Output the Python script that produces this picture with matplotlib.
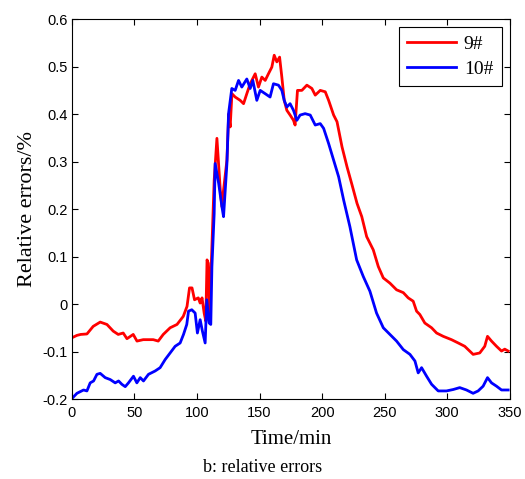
import numpy as np
import matplotlib.pyplot as plt

# series 9# (red)
x9 = [0, 4, 7, 12, 17, 22.6, 28, 33, 37, 41, 44, 49, 52, 57, 65, 69, 73, 78.5, 84, 89, 92, 94, 96, 98,
      101, 102.5, 104, 105.7, 107, 108, 109, 110, 111.9, 113.7, 115.9, 118.6, 119.9, 121.2, 123.9, 125.3,
      126.5, 127.9, 130.5, 134.5, 137.2, 139.8, 142.5, 146.5, 149.1, 151.8, 154.5, 157.1, 159.8, 161.7,
      163.8, 166, 167.8, 169.7, 171.8, 174.4, 177.1, 178.4, 180.3, 183.8, 187.8, 191.8, 194.5, 198.5,
      202.5, 205.2, 209.2, 211.9, 215.9, 219.9, 223.9, 227.9, 231.7, 235.6, 240.9, 244.9, 248.9, 254.2,
      259.5, 264.9, 268.8, 272.8, 275.5, 278.1, 282.1, 287.5, 291.5, 296.8, 303.4, 308.8, 314, 320.7,
      326, 330, 332.2, 335.4, 339.4, 343.4, 346, 348.7]
y9 = [-0.071, -0.066, -0.064, -0.063, -0.047, -0.038, -0.043, -0.057, -0.064, -0.061, -0.073, -0.064,
      -0.078, -0.075, -0.075, -0.078, -0.064, -0.050, -0.043, -0.026, -0.005, 0.034, 0.034, 0.009,
      0.013, 0.002, 0.013, -0.019, -0.036, 0.093, 0.086, -0.019, 0.121, 0.260, 0.349, 0.240, 0.205,
      0.240, 0.303, 0.400, 0.373, 0.443, 0.436, 0.429, 0.422, 0.443, 0.464, 0.485, 0.457, 0.478, 0.471,
      0.485, 0.499, 0.524, 0.510, 0.520, 0.478, 0.429, 0.408, 0.398, 0.387, 0.377, 0.450, 0.450, 0.461,
      0.454, 0.440, 0.450, 0.447, 0.429, 0.398, 0.384, 0.331, 0.289, 0.251, 0.212, 0.184, 0.142, 0.114,
      0.079, 0.055, 0.044, 0.030, 0.024, 0.013, 0.006, -0.015, -0.022, -0.040, -0.050, -0.061, -0.068,
      -0.075, -0.082, -0.089, -0.106, -0.103, -0.089, -0.068, -0.078, -0.089, -0.099, -0.095, -0.099]

# series 10# (blue)
x10 = [0, 4, 9.3, 12, 14.6, 17.3, 20, 22.6, 26.6, 30.6, 34.6, 37.3, 39.9, 42.6, 45.2, 49.2, 51.9, 54.6,
       57.2, 61.2, 66.5, 70.5, 74.5, 78.5, 82.5, 86.5, 89.2, 91.8, 93.2, 95.8, 98.5, 100.3, 102.5, 104.3,
       106.5, 107.8, 109.7, 111, 111.9, 113.7, 114.5, 117.3, 119.9, 121.2, 123.9, 125.2, 127.8, 130.5,
       133.2, 135.8, 139.8, 142.5, 144.6, 147.8, 150.5, 154.5, 158.4, 161.1, 165.1, 167.8, 169.7, 171.8,
       174.4, 177.1, 179.8, 182.4, 186.4, 190.5, 194.5, 198.5, 201.2, 205.2, 209.2, 213.2, 217.2, 222.2,
       227.6, 232.9, 238.2, 243.5, 248.9, 254.2, 259.5, 264.9, 270.2, 274.2, 276.8, 279.5, 283.5, 287.5,
       292.8, 299.4, 304.8, 310, 315.4, 320.7, 324.7, 328.7, 332.2, 335.4, 339.4, 343.4, 348.7]
y10 = [-0.199, -0.188, -0.181, -0.183, -0.166, -0.162, -0.148, -0.146, -0.155, -0.159, -0.166, -0.162,
       -0.169, -0.174, -0.166, -0.152, -0.166, -0.155, -0.162, -0.148, -0.141, -0.134, -0.117, -0.103,
       -0.089, -0.082, -0.064, -0.043, -0.015, -0.012, -0.019, -0.061, -0.033, -0.057, -0.082, 0.009,
       -0.040, -0.043, 0.079, 0.190, 0.296, 0.254, 0.205, 0.184, 0.296, 0.401, 0.454, 0.450, 0.471,
       0.457, 0.474, 0.454, 0.471, 0.429, 0.450, 0.443, 0.436, 0.464, 0.461, 0.450, 0.429, 0.415, 0.422,
       0.408, 0.387, 0.398, 0.401, 0.398, 0.377, 0.380, 0.370, 0.338, 0.303, 0.268, 0.219, 0.163, 0.093,
       0.058, 0.027, -0.019, -0.050, -0.064, -0.078, -0.096, -0.106, -0.120, -0.145, -0.134, -0.152,
       -0.169, -0.183, -0.183, -0.180, -0.176, -0.181, -0.188, -0.183, -0.173, -0.155, -0.166, -0.173,
       -0.181, -0.181]

yticks = [-0.2, -0.1, 0, 0.1, 0.2, 0.3, 0.4, 0.5, 0.6]
ytick_labels = ['-0.2', '-0.1', '0', '0.1', '0.2', '0.3', '0.4', '0.5', '0.6']
xticks = [0, 50, 100, 150, 200, 250, 300, 350]

fig = plt.figure(figsize=(5.25, 4.79), dpi=100)
ax = fig.add_axes([0.137, 0.167, 0.834, 0.793])

ax.plot(x9, y9, color='#ff0000', lw=2, label='9#')
ax.plot(x10, y10, color='#0000ff', lw=2, label='10#')

ax.set_xlim(0, 350)
ax.set_ylim(-0.2, 0.6)
ax.set_xticks(xticks)
ax.set_xticklabels([str(t) for t in xticks], family='Liberation Sans', fontsize=10.5)
ax.set_yticks(yticks)
ax.set_yticklabels(ytick_labels, family='Liberation Sans', fontsize=10.5)
ax.tick_params(direction='in', top=True, right=True, length=4, width=0.8)
ax.tick_params(axis='x', pad=5)
ax.tick_params(axis='y', pad=3)
for s in ax.spines.values():
    s.set_linewidth(0.8)

ax.set_xlabel('Time/min', family='Liberation Serif', fontsize=15, labelpad=7)
ax.set_ylabel('Relative errors/%', family='Liberation Serif', fontsize=16, labelpad=4)

leg = ax.legend(loc='upper right', prop={'family': 'Liberation Serif', 'size': 14},
                fancybox=False, edgecolor='black', framealpha=1, borderaxespad=0.4,
                handlelength=2.5, handletextpad=0.4, labelspacing=0.35, borderpad=0.45)
leg.get_frame().set_linewidth(0.8)

fig.text(0.5, 0.025, 'b: relative errors', ha='center', va='center',
         family='Liberation Serif', fontsize=13)

fig.savefig('out.png', dpi=100)
